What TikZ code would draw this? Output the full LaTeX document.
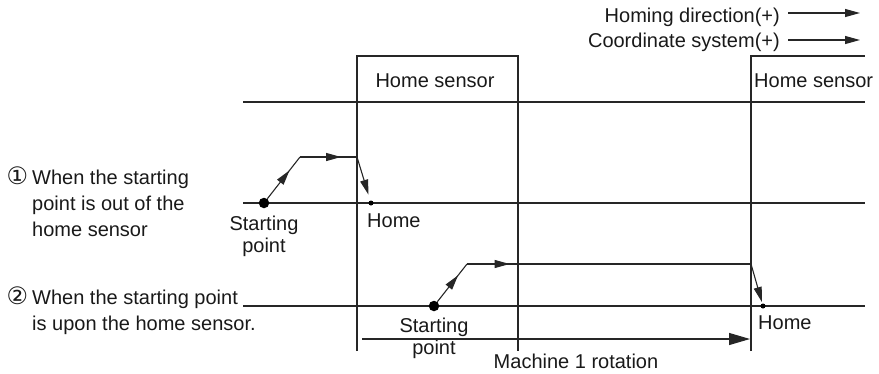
\documentclass[tikz,border=0pt]{standalone}
\usepackage{fontspec}
\setmainfont{Liberation Sans}
\newfontfamily\circfont{DejaVu Sans}
\usetikzlibrary{positioning, arrows.meta, decorations.markings}

\begin{document}
\begin{tikzpicture}[
        x=1pt, y=-1pt, >={Triangle[length=15pt, width=8pt]},
        line/.style={line width=1.1pt, draw=black!85},
        lbl/.style={font=\fontsize{20}{22}\selectfont, inner sep=0pt, text=black!90},
        note/.style={font=\fontsize{20}{26}\selectfont, inner sep=0pt, text=black!90, align=left},
        startdot/.style={circle, fill=black, minimum size=10.5pt, inner sep=0pt},
        homedot/.style={circle, fill=black, minimum size=5pt, inner sep=0pt},
        arrowat/.style={postaction={decorate}, decoration={markings, mark=at position #1 with {\arrow{>}}}}
    ]
        \useasboundingbox (0,0) rectangle (879,373);

        % --- DIRECTION LEGEND ---
        \node[lbl, anchor=base east] (homing) at (780,22) {Homing direction(+)};
        \node[lbl, anchor=base east] (coordsys) at (780,47) {Coordinate system(+)};
        \coordinate (hd0) at (788,13);
        \coordinate (hd1) at (860,13);
        \coordinate (cs0) at (788,40);
        \coordinate (cs1) at (860,40);
        \draw[line, ->] (hd0) -- (hd1);
        \draw[line, ->] (cs0) -- (cs1);

        % --- HOME SENSOR AREAS ---
        \coordinate (s1bl) at (357,351);
        \coordinate (s1tl) at (357,56);
        \coordinate (s1tr) at (518,56);
        \coordinate (s1br) at (518,351);
        \draw[line] (s1bl) -- (s1tl) -- (s1tr) -- (s1br);
        \node[lbl, anchor=base] (sens1) at (435,87) {Home sensor};

        \coordinate (s2bl) at (751,351);
        \coordinate (s2tl) at (751,56);
        \coordinate (s2tr) at (865,56);
        \draw[line] (s2bl) -- (s2tl) -- (s2tr);
        \node[lbl, anchor=base west] (sens2) at (754,87) {Home sensor};

        % --- HORIZONTAL LEVELS ---
        \coordinate (lvl0a) at (243,102);
        \coordinate (lvl0b) at (865,102);
        \coordinate (lvl1a) at (243,203);
        \coordinate (lvl1b) at (865,203);
        \coordinate (lvl2a) at (243,306);
        \coordinate (lvl2b) at (865,306);
        \draw[line] (lvl0a) -- (lvl0b);
        \draw[line] (lvl1a) -- (lvl1b);
        \draw[line] (lvl2a) -- (lvl2b);

        % --- CASE 1: start out of the sensor ---
        \node[note, anchor=north west] (case1) at (32,166.5)
            {\llap{{\circfont\fontsize{24}{24}\selectfont ①}\hspace{4pt}}When the starting\\point is out of the\\home sensor};
        \node[startdot] (start1) at (264,203) {};
        \coordinate (up1) at (300,157);
        \coordinate (turn1) at (357,157);
        \node[homedot] (home1) at (371,203) {};
        \node[lbl, align=center, below=7pt of start1] (slbl1) {Starting\\point};
        \node[lbl, anchor=base west] (hlbl1) at (367,227) {Home};

        \draw[line, arrowat=0.68] (start1) -- (up1);
        \draw[line, arrowat=0.72] (up1) -- (turn1);
        \draw[line, ->, shorten >=6pt] (turn1) -- (home1);

        % --- CASE 2: start upon the sensor ---
        \node[note, anchor=north west] (case2) at (32,287)
            {\llap{{\circfont\fontsize{24}{24}\selectfont ②}\hspace{4pt}}When the starting point\\is upon the home sensor.};
        \node[startdot] (start2) at (434,306) {};
        \coordinate (up2) at (467,264);
        \coordinate (turn2) at (751,264);
        \node[homedot] (home2) at (763,306) {};
        \node[lbl, align=center, below=6.5pt of start2] (slbl2) {Starting\\point};
        \node[lbl, anchor=base west] (hlbl2) at (758,329) {Home};

        \draw[line, arrowat=0.7] (start2) -- (up2);
        \draw[line, arrowat=0.15] (up2) -- (turn2);
        \draw[line, ->, shorten >=1.5pt] (turn2) -- (home2);

        % --- ONE MACHINE ROTATION ---
        \coordinate (rot0) at (362,339);
        \coordinate (rot1) at (750,339);
        \draw[line, -{Triangle[length=21pt, width=12pt]}] (rot0) -- (rot1);
        \node[lbl, anchor=base] (rotlbl) at (576,368) {Machine 1 rotation};

    \end{tikzpicture}
\end{document}
